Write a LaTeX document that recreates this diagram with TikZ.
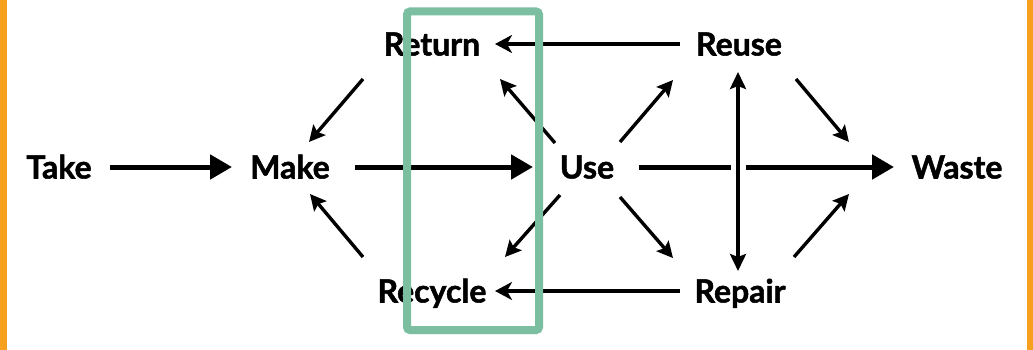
\documentclass[tikz,border=0pt]{standalone}
\usepackage{fontspec}
\setmainfont{Lato}[BoldFeatures={FakeBold=1.6}]
\usetikzlibrary{arrows.meta,calc}
\definecolor{boxgreen}{RGB}{124,190,160}
\definecolor{barorange}{RGB}{247,160,30}
\begin{document}
\begin{tikzpicture}[x=1pt,y=-1pt,
  lbl/.style={font=\fontsize{32}{32}\selectfont\bfseries, inner sep=0pt, text height=23pt, text depth=0pt},
  bigarrow/.style={line width=5pt, -{Triangle[length=22pt,width=24pt]}},
  medarrow/.style={line width=4.5pt, -{Stealth[length=17pt,width=18pt,inset=5pt]}},
  diagarrow/.style={line width=3.4pt, -{Stealth[length=16pt,width=16pt,inset=3pt]}},
  vertarrow/.style={line width=4pt, {Stealth[length=17pt,width=16pt,inset=3pt]}-{Stealth[length=17pt,width=16pt,inset=3pt]}},
  hilite/.style={draw=boxgreen, line width=8pt, rounded corners=3pt},
  bar/.style={fill=barorange, draw=none}]
\useasboundingbox (0,0) rectangle (1033,350);
\fill[white] (0,0) rectangle (1033,350);
\fill[bar] (0,0) rectangle (6.5,350);
\fill[bar] (1026.5,0) rectangle (1033,350);

\node[lbl] (take) at (59,167) {Take};
\node[lbl] (make) at (290,167) {Make};
\node[lbl] (return) at (432,44) {Return};
\node[lbl] (recycle) at (432,291) {Recycle};
\node[lbl] (use) at (587,167) {Use};
\node[lbl] (reuse) at (739,44) {Reuse};
\node[lbl] (repair) at (740,291) {Repair};
\node[lbl] (waste) at (957,167) {Waste};

\draw[bigarrow] ([shift={(51,0)}]take.center) -- ([shift={(-58,0)}]make.center);
\draw[bigarrow] ([shift={(65,0)}]make.center) -- ([shift={(-54,0)}]use.center);
\draw[bigarrow] ([shift={(52,0)}]use.center) -- ([shift={(-63,0)}]waste.center);

\draw[diagarrow] ([shift={(-69,35)}]return.center) -- ([shift={(19,-25)}]make.center);
\draw[diagarrow] ([shift={(-69,-34)}]recycle.center) -- ([shift={(20,27)}]make.center);
\draw[diagarrow] ([shift={(-32,-24)}]use.center) -- ([shift={(68,35)}]return.center);
\draw[diagarrow] ([shift={(-27,28)}]use.center) -- ([shift={(73,-34)}]recycle.center);
\draw[diagarrow] ([shift={(33,-25)}]use.center) -- ([shift={(-66,36)}]reuse.center);
\draw[diagarrow] ([shift={(33,30)}]use.center) -- ([shift={(-67,-33)}]repair.center);
\draw[diagarrow] ([shift={(57,35)}]reuse.center) -- ([shift={(-108,-25)}]waste.center);
\draw[diagarrow] ([shift={(54,-34)}]repair.center) -- ([shift={(-108,27)}]waste.center);

\draw[vertarrow, preaction={draw=white, line width=15pt, -, shorten <=20pt, shorten >=20pt}]
  ([shift={(-1,28)}]reuse.center) -- ([shift={(-2,-20)}]repair.center);

\draw[medarrow] ([shift={(-59,0)}]reuse.center) -- ([shift={(63,0)}]return.center);
\draw[medarrow] ([shift={(-60,0)}]repair.center) -- ([shift={(63,0)}]recycle.center);

\draw[hilite] (407,11.5) rectangle (539,330);
\end{tikzpicture}
\end{document}
